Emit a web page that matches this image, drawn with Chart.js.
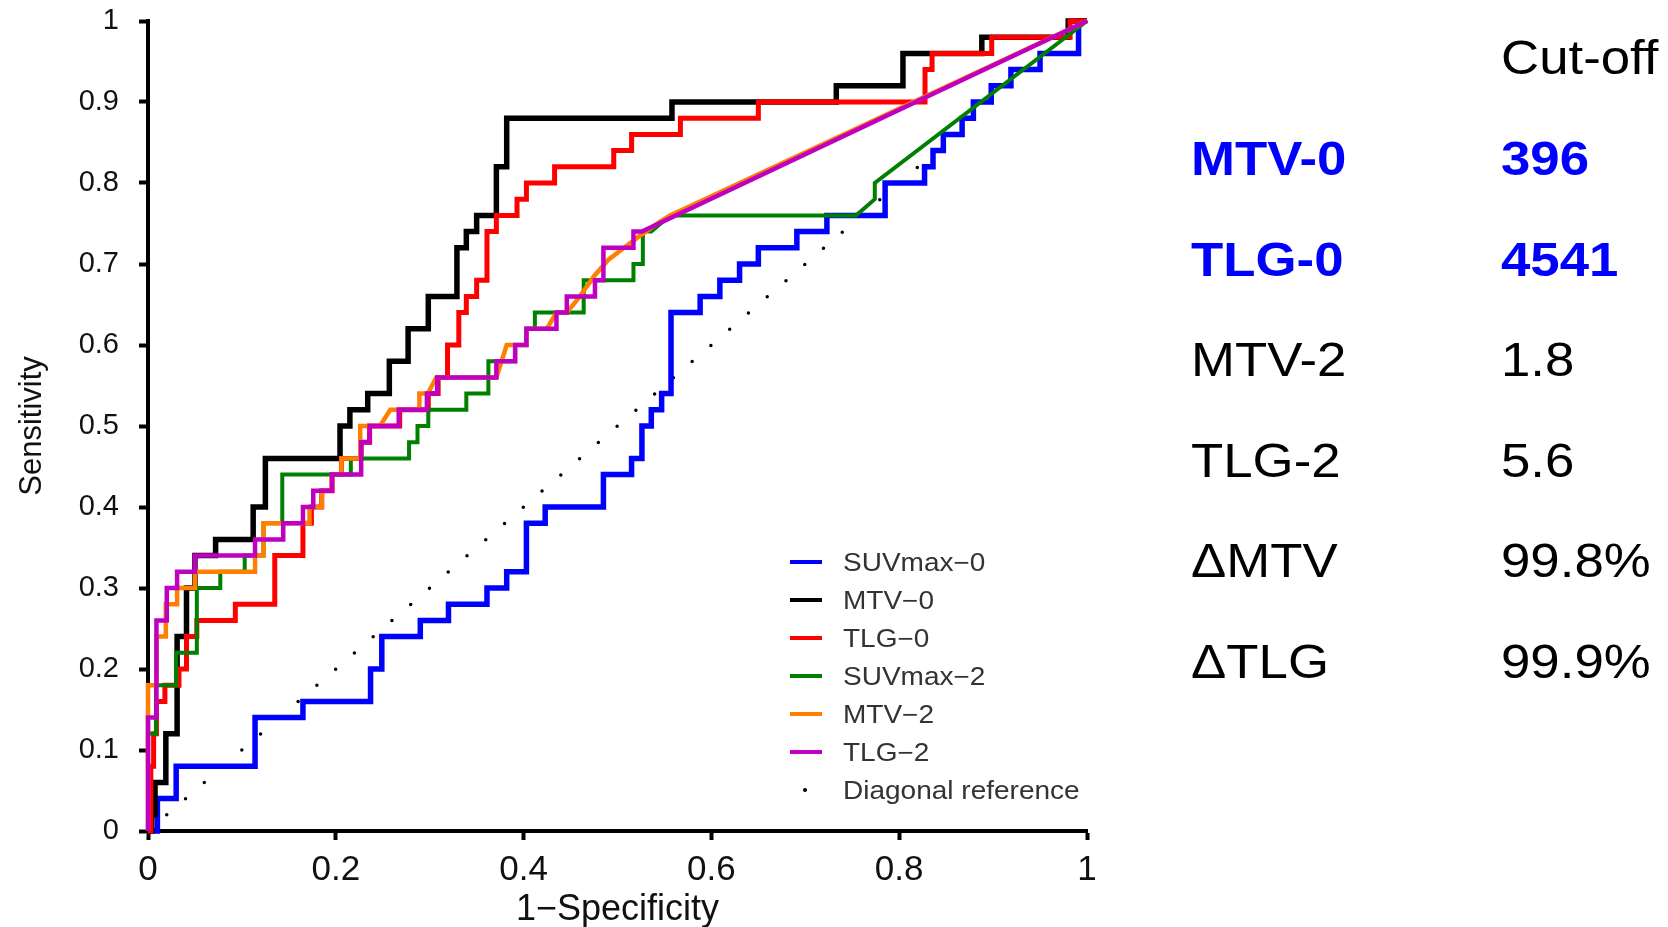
<!DOCTYPE html>
<html>
<head>
<meta charset="utf-8">
<script src="https://cdn.jsdelivr.net/npm/chart.js@4.4.1/dist/chart.umd.min.js"></script>
<style>
  body { margin: 0; background: #fff; width: 1668px; height: 927px; overflow: hidden; position: relative;
         font-family: Arial, "Liberation Sans", sans-serif; }
  #wrap { position: absolute; left: 0; top: 0; width: 1130px; height: 927px; }
  .leg { position: absolute; left: 790px; height: 38px; width: 300px; }
  .leg .mark { position: absolute; left: 0; top: 17px; width: 32px; height: 4px; }
  .leg .dot { position: absolute; left: 13px; top: 17px; width: 4px; height: 4px; border-radius: 2px; background: #000; }
  .leg .txt { position: absolute; left: 53px; top: 0; line-height: 38px; font-size: 25px; color: #333;
              transform: scaleX(1.12); transform-origin: left center; white-space: nowrap; }
  .cell { position: absolute; font-size: 48px; line-height: 48px; color: #000; white-space: nowrap;
          transform: scaleX(1.1); transform-origin: left center; }
  .hi { color: #0000ff; font-weight: bold; }
</style>
</head>
<body>
<div id="wrap"><canvas id="roc" width="1130" height="927"></canvas></div>
<div id="legend"></div>
<div id="table"></div>
<script>
/* ===== axis ticks ===== */
const xTickValues = [0, 0.2, 0.4, 0.6, 0.8, 1];
const xTickLabels = ['0', '0.2', '0.4', '0.6', '0.8', '1'];
const yTickValues = [0, 0.1, 0.2, 0.3, 0.4, 0.5, 0.6, 0.7, 0.8, 0.9, 1];
const yTickLabels = ['0', '0.1', '0.2', '0.3', '0.4', '0.5', '0.6', '0.7', '0.8', '0.9', '1'];

/* ===== ROC curves: [1-specificity, sensitivity] ===== */
const suvmax0 = [[0,0],[0.01,0],[0.01,0.04],[0.03,0.04],[0.03,0.08],[0.114,0.08],[0.114,0.14],[0.165,0.14],
  [0.165,0.16],[0.237,0.16],[0.237,0.2],[0.249,0.2],[0.249,0.24],[0.29,0.24],[0.29,0.26],[0.32,0.26],[0.32,0.28],
  [0.361,0.28],[0.361,0.3],[0.382,0.3],[0.382,0.32],[0.403,0.32],[0.403,0.38],[0.423,0.38],[0.423,0.4],[0.485,0.4],
  [0.485,0.44],[0.515,0.44],[0.515,0.46],[0.526,0.46],[0.526,0.5],[0.536,0.5],[0.536,0.52],[0.547,0.52],[0.547,0.54],
  [0.557,0.54],[0.557,0.64],[0.588,0.64],[0.588,0.66],[0.609,0.66],[0.609,0.68],[0.63,0.68],[0.63,0.7],[0.65,0.7],
  [0.65,0.72],[0.691,0.72],[0.691,0.74],[0.723,0.74],[0.723,0.76],[0.785,0.76],[0.785,0.8],[0.827,0.8],[0.827,0.82],
  [0.836,0.82],[0.836,0.84],[0.847,0.84],[0.847,0.86],[0.867,0.86],[0.867,0.88],[0.879,0.88],[0.879,0.9],[0.898,0.9],
  [0.898,0.92],[0.919,0.92],[0.919,0.94],[0.95,0.94],[0.95,0.96],[0.991,0.96],[0.991,1],[1,1]];

const mtv0 = [[0,0],[0.004,0],[0.004,0.02],[0.0075,0.02],[0.0075,0.06],[0.019,0.06],[0.019,0.12],[0.031,0.12],
  [0.031,0.24],[0.041,0.24],[0.041,0.3],[0.05,0.3],[0.05,0.34],[0.072,0.34],[0.072,0.36],[0.112,0.36],[0.112,0.4],
  [0.125,0.4],[0.125,0.46],[0.2045,0.46],[0.2045,0.5],[0.215,0.5],[0.215,0.52],[0.234,0.52],[0.234,0.54],[0.257,0.54],
  [0.257,0.58],[0.277,0.58],[0.277,0.62],[0.2985,0.62],[0.2985,0.66],[0.329,0.66],[0.329,0.72],[0.339,0.72],
  [0.339,0.74],[0.35,0.74],[0.35,0.76],[0.371,0.76],[0.371,0.82],[0.382,0.82],[0.382,0.88],[0.558,0.88],[0.558,0.9],
  [0.733,0.9],[0.733,0.92],[0.804,0.92],[0.804,0.96],[0.888,0.96],[0.888,0.98],[0.98,0.98],[0.98,1],[1,1]];

const tlg0 = [[0,0],[0.003,0],[0.003,0.08],[0.006,0.08],[0.006,0.12],[0.009,0.12],[0.009,0.16],[0.018,0.16],
  [0.018,0.18],[0.033,0.18],[0.033,0.2],[0.041,0.2],[0.041,0.24],[0.052,0.24],[0.052,0.26],[0.093,0.26],[0.093,0.28],
  [0.135,0.28],[0.135,0.34],[0.165,0.34],[0.165,0.38],[0.174,0.38],[0.174,0.4],[0.185,0.4],[0.185,0.42],[0.196,0.42],
  [0.196,0.44],[0.206,0.44],[0.206,0.46],[0.227,0.46],[0.227,0.48],[0.236,0.48],[0.236,0.5],[0.268,0.5],[0.268,0.52],
  [0.2985,0.52],[0.2985,0.54],[0.309,0.54],[0.309,0.56],[0.319,0.56],[0.319,0.6],[0.331,0.6],[0.331,0.64],[0.339,0.64],
  [0.339,0.66],[0.35,0.66],[0.35,0.68],[0.361,0.68],[0.361,0.74],[0.371,0.74],[0.371,0.76],[0.393,0.76],[0.393,0.78],
  [0.403,0.78],[0.403,0.8],[0.433,0.8],[0.433,0.82],[0.496,0.82],[0.496,0.84],[0.515,0.84],[0.515,0.86],[0.567,0.86],
  [0.567,0.88],[0.65,0.88],[0.65,0.9],[0.8275,0.9],[0.8275,0.94],[0.835,0.94],[0.835,0.96],[0.8985,0.96],[0.8985,0.98],
  [0.982,0.98],[0.982,1],[1,1]];

const suvmax2 = [[0,0],[0,0.12],[0.0085,0.12],[0.0085,0.18],[0.03,0.18],[0.03,0.22],[0.052,0.22],[0.052,0.3],
  [0.077,0.3],[0.077,0.32],[0.103,0.32],[0.103,0.34],[0.123,0.34],[0.123,0.38],[0.143,0.38],[0.143,0.44],[0.216,0.44],
  [0.216,0.46],[0.278,0.46],[0.278,0.48],[0.287,0.48],[0.287,0.5],[0.2985,0.5],[0.2985,0.52],[0.339,0.52],[0.339,0.54],
  [0.3625,0.54],[0.3625,0.58],[0.391,0.58],[0.391,0.6],[0.403,0.6],[0.403,0.62],[0.412,0.62],[0.412,0.64],[0.464,0.64],
  [0.464,0.68],[0.517,0.68],[0.517,0.7],[0.527,0.7],[0.527,0.74],[0.536,0.74],[0.556,0.76],[0.754,0.76],[0.774,0.78],
  [0.774,0.8],[1,1]];

const mtv2 = [[0,0],[0,0.18],[0.009,0.18],[0.009,0.24],[0.019,0.24],[0.019,0.28],[0.031,0.28],[0.031,0.3],[0.05,0.3],
  [0.05,0.32],[0.114,0.32],[0.114,0.34],[0.123,0.34],[0.123,0.38],[0.172,0.38],[0.172,0.4],[0.185,0.4],[0.185,0.42],
  [0.196,0.42],[0.196,0.44],[0.206,0.44],[0.206,0.46],[0.226,0.46],[0.226,0.5],[0.247,0.5],[0.258,0.52],[0.289,0.52],
  [0.289,0.54],[0.298,0.54],[0.307,0.56],[0.371,0.56],[0.382,0.6],[0.403,0.6],[0.403,0.62],[0.4246,0.62],[0.435,0.64],
  [0.446,0.64],[0.46,0.66],[0.475,0.685],[0.49,0.705],[0.507,0.72],[0.524,0.735],[0.545,0.752],[0.556,0.76],[1,1]];

const tlg2 = [[0,0],[0,0.14],[0.009,0.14],[0.009,0.26],[0.02,0.26],[0.02,0.3],[0.031,0.3],[0.031,0.32],[0.05,0.32],
  [0.05,0.34],[0.114,0.34],[0.114,0.36],[0.144,0.36],[0.144,0.38],[0.165,0.38],[0.165,0.4],[0.176,0.4],[0.176,0.42],
  [0.196,0.42],[0.196,0.44],[0.227,0.44],[0.227,0.48],[0.236,0.48],[0.236,0.5],[0.267,0.5],[0.267,0.52],[0.297,0.52],
  [0.297,0.54],[0.308,0.54],[0.308,0.56],[0.371,0.56],[0.371,0.58],[0.391,0.58],[0.391,0.6],[0.403,0.6],[0.403,0.62],
  [0.435,0.62],[0.435,0.64],[0.446,0.64],[0.446,0.66],[0.476,0.66],[0.476,0.68],[0.485,0.68],[0.485,0.72],[0.517,0.72],
  [0.517,0.74],[0.526,0.74],[1,1]];

const diagonal = [[0,0],[1,1]];

/* ===== legend / table text ===== */
const legendNames = ['SUVmax−0', 'MTV−0', 'TLG−0', 'SUVmax−2', 'MTV−2', 'TLG−2', 'Diagonal reference'];
const legendColors = ['#0000ff', '#000000', '#ff0000', '#008000', '#ff8000', '#c000c0', '#000000'];

const cutHeader = 'Cut-off';
const cutNames = ['MTV-0', 'TLG-0', 'MTV-2', 'TLG-2', 'ΔMTV', 'ΔTLG'];
const cutValues = ['396', '4541', '1.8', '5.6', '99.8%', '99.9%'];
const cutBold = [true, true, false, false, false, false];

/* ===== chart ===== */
const FONT = 'Arial, "Liberation Sans", sans-serif';

function curve(data, color, width, order) {
  return {
    data: data, borderColor: color, borderWidth: width, order: order,
    pointRadius: 0, tension: 0, fill: false, borderJoinStyle: 'miter', clip: 8
  };
}

new Chart(document.getElementById('roc'), {
  type: 'line',
  data: {
    datasets: [
      curve(suvmax0, legendColors[0], 5.5, 5),
      curve(mtv0, legendColors[1], 5.5, 4),
      curve(tlg0, legendColors[2], 5, 3),
      curve(suvmax2, legendColors[3], 4, 2),
      curve(mtv2, legendColors[4], 4.5, 1),
      curve(tlg2, legendColors[5], 4.5, 0),
      {
        data: diagonal, borderColor: '#000', borderWidth: 3.5, borderDash: [0, 24.78],
        borderCapStyle: 'round', pointRadius: 0, order: 6, clip: 8
      }
    ]
  },
  options: {
    responsive: false,
    animation: false,
    events: [],
    layout: { padding: { left: 14, top: 21, right: 43, bottom: 0 } },
    plugins: { legend: { display: false }, tooltip: { enabled: false } },
    scales: {
      x: {
        type: 'linear', min: 0, max: 1,
        afterBuildTicks: s => { s.ticks = xTickValues.map(v => ({ value: v })); },
        afterFit: s => { s.height = 96; s.paddingLeft = 0; s.paddingRight = 0; },
        ticks: {
          callback: (v, i) => xTickLabels[i],
          font: { size: 35, family: FONT }, color: '#111', padding: 9,
          maxRotation: 0, autoSkip: false
        },
        grid: { drawOnChartArea: false, drawTicks: true, tickLength: 9, tickWidth: 4, color: '#000' },
        border: { display: true, color: '#000', width: 4 },
        title: { display: true, text: '1−Specificity', font: { size: 36, family: FONT }, color: '#111',
                 padding: { top: 0, bottom: -5 } }
      },
      y: {
        type: 'linear', min: 0, max: 1,
        afterBuildTicks: s => { s.ticks = yTickValues.map(v => ({ value: v })); },
        afterFit: s => { s.width = 134; s.paddingTop = 0; s.paddingBottom = 0; },
        ticks: {
          callback: (v, i) => yTickLabels[i],
          font: { size: 29, family: FONT }, color: '#111', padding: 20, autoSkip: false
        },
        grid: { drawOnChartArea: false, drawTicks: true, tickLength: 9, tickWidth: 4, color: '#000' },
        border: { display: true, color: '#000', width: 4 },
        title: { display: true, text: 'Sensitivity', font: { size: 31, family: FONT }, color: '#111', padding: 0 }
      }
    }
  }
});

/* ===== legend (inside plot, lower right) ===== */
const legendBox = document.getElementById('legend');
legendNames.forEach((name, i) => {
  const item = document.createElement('div');
  item.className = 'leg';
  item.style.top = (562 + i * 38 - 19) + 'px';
  const last = i === legendNames.length - 1;
  item.innerHTML = (last ? '<span class="dot"></span>'
                         : `<span class="mark" style="background:${legendColors[i]}"></span>`) +
                   `<span class="txt">${name}</span>`;
  legendBox.appendChild(item);
});

/* ===== cut-off table ===== */
const table = document.getElementById('table');
function cell(text, x, yc, bold) {
  const d = document.createElement('div');
  d.className = 'cell' + (bold ? ' hi' : '');
  d.style.left = x + 'px';
  d.style.top = (yc - 24) + 'px';
  d.textContent = text;
  table.appendChild(d);
}
cell(cutHeader, 1501, 58, false);
cutNames.forEach((name, i) => {
  const yc = 159 + i * 100.6;
  cell(name, 1191, yc, cutBold[i]);
  cell(cutValues[i], 1501, yc, cutBold[i]);
});
</script>
</body>
</html>
